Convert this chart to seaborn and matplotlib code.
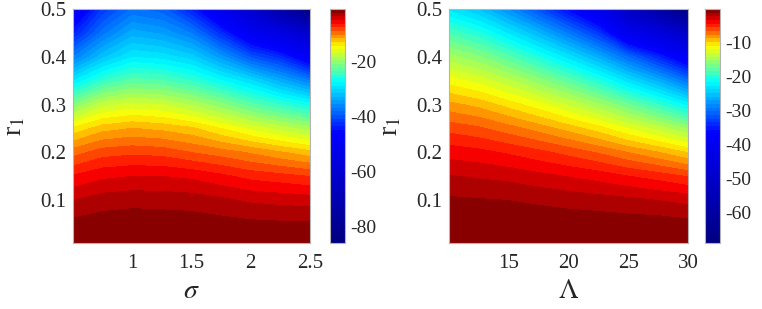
"""
Two filled-contour maps of the same quantity over r1, against sigma and Lambda.
Values are read off the reference picture on a coarse grid.
"""
import matplotlib

matplotlib.use("Agg")
import matplotlib.pyplot as plt
import numpy as np
import seaborn as sns
from matplotlib.colors import LinearSegmentedColormap, Normalize

# grid rows (shared by both panels)
r1 = [0.01, 0.05, 0.10, 0.15, 0.20, 0.25, 0.30, 0.35, 0.40, 0.45, 0.50]

# left panel: one list per sigma column, bottom (r1=0.01) to top (r1=0.5)
sigma = [0.5, 0.75, 1.0, 1.25, 1.5, 1.75, 2.0, 2.25, 2.5]
z_sigma_cols = [
    [-1.3, -1.9, -3.7, -6.2, -9.6, -14.0, -21.0, -29.0, -37.0, -44.0, -50.0],
    [-1.1, -1.6, -3.0, -5.3, -8.3, -12.2, -17.5, -25.0, -32.0, -37.5, -42.0],
    [-1.0, -1.5, -2.8, -5.0, -8.0, -11.6, -16.5, -23.0, -29.0, -33.6, -38.0],
    [-1.0, -1.5, -2.9, -5.0, -8.2, -12.0, -17.0, -23.5, -29.5, -34.5, -39.0],
    [-1.1, -1.6, -3.0, -5.3, -9.0, -12.7, -18.5, -25.0, -31.0, -37.0, -44.0],
    [-1.3, -1.8, -3.4, -6.0, -9.7, -14.3, -20.5, -27.5, -35.0, -43.0, -52.0],
    [-1.5, -2.0, -3.9, -6.8, -10.5, -16.0, -23.0, -30.0, -40.0, -50.0, -62.0],
    [-1.6, -2.1, -4.1, -7.2, -11.5, -17.5, -25.0, -33.5, -43.0, -55.0, -74.0],
    [-1.7, -2.1, -4.3, -7.7, -12.5, -19.0, -27.0, -37.0, -49.0, -62.0, -86.0],
]

# right panel: one list per Lambda column
lam = [10, 12.5, 15, 17.5, 20, 22.5, 25, 27.5, 30]
z_lam_cols = [
    [0.0, -0.2, -0.9, -2.1, -3.7, -5.8, -8.3, -11.3, -14.7, -18.6, -23.0],
    [0.0, -0.3, -1.0, -2.3, -4.0, -6.3, -9.0, -12.3, -16.0, -20.3, -25.0],
    [0.0, -0.3, -1.1, -2.5, -4.5, -7.1, -10.2, -13.8, -18.1, -22.9, -28.3],
    [0.0, -0.3, -1.3, -2.9, -5.1, -8.0, -11.5, -15.7, -20.5, -25.9, -32.0],
    [0.0, -0.4, -1.5, -3.3, -5.8, -9.1, -13.1, -17.8, -23.2, -29.4, -36.3],
    [0.0, -0.4, -1.7, -3.7, -6.6, -10.3, -14.9, -20.2, -26.4, -33.4, -41.3],
    [0.0, -0.5, -1.9, -4.3, -7.6, -11.9, -17.1, -23.3, -30.4, -41.0, -52.0],
    [0.0, -0.5, -2.2, -4.8, -8.6, -13.4, -19.4, -26.3, -34.4, -45.0, -60.0],
    [-0.1, -0.7, -2.5, -5.5, -9.8, -15.3, -22.1, -30.0, -39.2, -51.0, -69.0],
]

sigma_ticks = [1, 1.5, 2, 2.5]
sigma_ticklabels = ["1", "1.5", "2", "2.5"]
lam_ticks = [15, 20, 25, 30]
lam_ticklabels = ["15", "20", "25", "30"]
r1_ticks = [0.1, 0.2, 0.3, 0.4, 0.5]
r1_ticklabels = ["0.1", "0.2", "0.3", "0.4", "0.5"]
cb_left_ticks = [-80, -60, -40, -20]
cb_right_ticks = [-60, -50, -40, -30, -20, -10]

# jet, squeezed so the warm colours sit near the top of the range
JET_ANCHORS = [
    (0.000, (0.0, 0.0, 0.5)),
    (0.475, (0.0, 0.0, 1.0)),
    (0.582, (0.0, 0.5, 1.0)),
    (0.690, (0.0, 1.0, 1.0)),
    (0.767, (0.5, 1.0, 0.5)),
    (0.845, (1.0, 1.0, 0.0)),
    (0.895, (1.0, 0.5, 0.0)),
    (0.945, (1.0, 0.0, 0.0)),
    (1.000, (0.5, 0.0, 0.0)),
]
CMAP = LinearSegmentedColormap.from_list("squeezed_jet", JET_ANCHORS, N=256)
N_LEVELS = 64

sns.set_theme(style="white")
plt.rcParams["font.family"] = ["Liberation Serif", "DejaVu Serif"]
plt.rcParams["mathtext.fontset"] = "stix"
plt.rcParams["axes.unicode_minus"] = False

fig = plt.figure(figsize=(7.62, 3.09), dpi=100)
W, H = 762, 309


def px_axes(x0, x1, y0, y1):
    return fig.add_axes([x0 / W, 1 - y1 / H, (x1 - x0) / W, (y1 - y0) / H])


def panel(ax, cax, xs, cols, xlabel, xticks, xticklabels, cbticks):
    z = np.array(cols).T
    vmin, vmax = z.min(), z.max()
    levels = np.linspace(vmin, vmax, N_LEVELS + 1)
    cs = ax.contourf(xs, r1, z, levels=levels, cmap=CMAP,
                     norm=Normalize(vmin, vmax))
    ax.set_xlim(xs[0], xs[-1])
    ax.set_ylim(r1[0], r1[-1])
    ax.set_xticks(xticks, xticklabels)
    ax.set_yticks(r1_ticks, r1_ticklabels)
    ax.tick_params(length=0, labelsize=15)
    ax.tick_params(axis="x", pad=8)
    ax.tick_params(axis="y", pad=5)
    ax.set_xlabel(xlabel, fontsize=20, labelpad=4)
    ax.set_ylabel("r$_1$", fontsize=20, labelpad=9)
    for sp in ax.spines.values():
        sp.set_color("#b4b4b4")
        sp.set_linewidth(0.8)

    cb = fig.colorbar(cs, cax=cax)
    cb.set_ticks(cbticks, labels=[str(t) for t in cbticks])
    cax.tick_params(labelsize=14, length=3, direction="in", pad=4,
                    color="#808080")
    cb.outline.set_edgecolor("#b4b4b4")
    cb.outline.set_linewidth(0.8)


ax1 = px_axes(73, 310, 9, 243)
cax1 = px_axes(330, 345, 9, 243)
ax2 = px_axes(449, 688, 9, 243)
cax2 = px_axes(705, 720, 9, 243)

panel(ax1, cax1, sigma, z_sigma_cols, r"$\sigma$", sigma_ticks,
      sigma_ticklabels, cb_left_ticks)
panel(ax2, cax2, lam, z_lam_cols, r"$\Lambda$", lam_ticks,
      lam_ticklabels, cb_right_ticks)

fig.savefig("out.png", dpi=100)
